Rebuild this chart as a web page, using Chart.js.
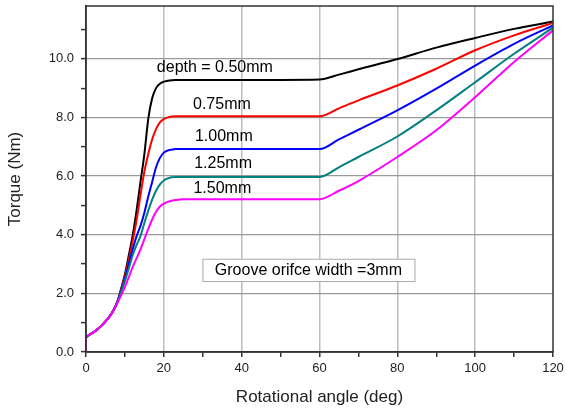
<!DOCTYPE html>
<html>
<head>
<meta charset="utf-8">
<script src="https://cdn.jsdelivr.net/npm/chart.js@4/dist/chart.umd.min.js"></script>
<style>
html,body{margin:0;padding:0;background:#fff;}
canvas{display:block;}
</style>
</head>
<body>
<canvas id="c" width="566" height="412"></canvas>
<script>
// Rotational angle (deg)
const angles = [0, 0, 1, 2, 3, 4, 5, 6, 7, 8, 9, 10, 11, 12, 13, 14, 15, 16, 17, 18, 19, 20, 21, 22, 23, 24, 25, 30, 40, 50, 60, 65, 70, 80, 90, 100, 110, 120];

// Torque (Nm) per groove depth
const depth050 = [0, 0.52, 0.6, 0.68, 0.78, 0.9, 1.04, 1.21, 1.42, 1.7,
  2.15, 2.65, 3.3, 3.98, 4.83, 5.8, 6.75, 7.95, 8.65, 9.0, 9.15, 9.22, 9.25, 9.27, 9.28, 9.28, 9.28,
  9.28, 9.28, 9.28, 9.29, 9.46, 9.64, 9.99, 10.38, 10.71, 11.02, 11.27];
const depth075 = [0, 0.52, 0.6, 0.68, 0.78, 0.9, 1.04, 1.2, 1.41, 1.69,
  2.1, 2.58, 3.15, 3.78, 4.5, 5.35, 6.15, 6.75, 7.25, 7.6, 7.83, 7.94, 8.0, 8.03, 8.04, 8.04, 8.04,
  8.04, 8.04, 8.04, 8.04, 8.31, 8.58, 9.09, 9.66, 10.29, 10.8, 11.22];
const depth100 = [0, 0.52, 0.6, 0.68, 0.78, 0.9, 1.04, 1.2, 1.4, 1.68,
  2.07, 2.5, 3.0, 3.5, 3.95, 4.3, 4.75, 5.3, 5.8, 6.3, 6.62, 6.8, 6.87, 6.9, 6.92, 6.92, 6.92,
  6.92, 6.92, 6.92, 6.92, 7.25, 7.58, 8.24, 8.98, 9.77, 10.51, 11.14];
const depth125 = [0, 0.52, 0.6, 0.68, 0.78, 0.9, 1.04, 1.2, 1.4, 1.67,
  2.03, 2.42, 2.85, 3.3, 3.65, 3.95, 4.4, 4.82, 5.2, 5.5, 5.72, 5.85, 5.92, 5.96, 5.97, 5.97, 5.97,
  5.97, 5.97, 5.97, 5.97, 6.3, 6.65, 7.35, 8.24, 9.2, 10.17, 11.06];
const depth150 = [0, 0.53, 0.6, 0.68, 0.78, 0.9, 1.04, 1.2, 1.4, 1.65,
  1.92, 2.22, 2.55, 2.9, 3.2, 3.5, 3.85, 4.2, 4.52, 4.78, 4.96, 5.06, 5.12, 5.16, 5.18, 5.2, 5.21,
  5.21, 5.21, 5.21, 5.21, 5.5, 5.83, 6.65, 7.56, 8.69, 9.89, 10.97];

const seriesNames = ['depth = 0.50mm', '0.75mm', '1.00mm', '1.25mm', '1.50mm'];
const noteText = 'Groove orifce width =3mm';
const xTitle = 'Rotational angle (deg)';
const yTitle = 'Torque (Nm)';

const FONT = '"Liberation Sans", Arial, sans-serif';

function pts(ys){ return angles.map((a,i)=>({x:a, y:ys[i]})); }

const colors = ['#000000', '#ff0000', '#0000ff', '#008080', '#ff00ff'];
const allSeries = [depth050, depth075, depth100, depth125, depth150];

const datasets = allSeries.map((s,i)=>({
  label: seriesNames[i],
  data: pts(s),
  borderColor: colors[i],
  backgroundColor: colors[i],
  borderWidth: 2,
  pointRadius: 0,
  cubicInterpolationMode: 'monotone',
  order: 4 - i,
  fill: false
}));

// label anchor positions in data units (left, middle)
const labelAnchors = [[18.2, 9.7], [27.5, 8.45], [28.0, 7.36], [27.8, 6.41], [27.6, 5.56]];
const noteBox = {x0: 29.9, x1: 84.4, y0: 3.18, y1: 2.42};

const annotPlugin = {
  id: 'annot',
  afterDatasetsDraw(chart){
    const {ctx, chartArea, scales:{x, y}} = chart;
    ctx.save();
    // frame
    ctx.strokeStyle = '#333';
    ctx.lineWidth = 1.5;
    ctx.strokeRect(chartArea.left, chartArea.top, chartArea.right - chartArea.left, chartArea.bottom - chartArea.top);
    // series labels
    ctx.fillStyle = '#000';
    ctx.font = '16px ' + FONT;
    ctx.textAlign = 'left';
    ctx.textBaseline = 'middle';
    seriesNames.forEach((t,i)=>{
      ctx.fillText(t, x.getPixelForValue(labelAnchors[i][0]), y.getPixelForValue(labelAnchors[i][1]));
    });
    // note box
    const bx0 = x.getPixelForValue(noteBox.x0), bx1 = x.getPixelForValue(noteBox.x1);
    const by0 = y.getPixelForValue(noteBox.y0), by1 = y.getPixelForValue(noteBox.y1);
    ctx.fillStyle = '#fff';
    ctx.fillRect(bx0, by0, bx1 - bx0, by1 - by0);
    ctx.strokeStyle = '#aaa';
    ctx.lineWidth = 1;
    ctx.strokeRect(bx0 + 0.5, by0 + 0.5, bx1 - bx0, by1 - by0);
    ctx.fillStyle = '#000';
    ctx.textAlign = 'center';
    ctx.fillText(noteText, (bx0 + bx1) / 2, (by0 + by1) / 2 + 1);
    ctx.restore();
  }
};

new Chart(document.getElementById('c'), {
  type: 'line',
  data: { datasets },
  options: {
    responsive: false,
    animation: false,
    layout: { padding: { top: 6, right: 13, left: 0, bottom: 0 } },
    plugins: { legend: { display: false }, tooltip: { enabled: false } },
    scales: {
      x: {
        type: 'linear',
        min: 0, max: 120,
        afterFit(s){ s.height = 60; s.paddingLeft = 0; s.paddingRight = 0; },
        ticks: {
          stepSize: 10,
          autoSkip: false,
          maxRotation: 0,
          padding: 4,
          color: '#222',
          font: { family: FONT, size: 13 },
          callback: v => (v % 20 === 0 ? String(v) : '')
        },
        grid: {
          color: c => (c.tick && c.tick.value % 20 === 0 && c.tick.value !== 0 && c.tick.value !== 120) ? '#bdbdbd' : 'rgba(0,0,0,0)',
          lineWidth: 1.5,
          tickColor: '#333',
          tickLength: 5,
          tickWidth: 1.5
        },
        border: { display: true, color: '#333', width: 1.5 },
        title: { display: true, text: xTitle, color: '#222', font: { family: FONT, size: 17 }, padding: { top: 0, bottom: 4 } }
      },
      y: {
        type: 'linear',
        min: 0, max: 11.8,
        afterFit(s){ s.width = 86; s.paddingTop = 0; s.paddingBottom = 0; },
        afterBuildTicks(s){ s.ticks = s.ticks.filter(t => Math.abs(t.value - Math.round(t.value)) < 1e-6); },
        ticks: {
          stepSize: 1,
          autoSkip: false,
          padding: 7,
          color: '#222',
          font: { family: FONT, size: 13 },
          callback: v => (Math.round(v) % 2 === 0 ? v.toFixed(1) : '')
        },
        grid: {
          color: c => (c.tick && Math.round(c.tick.value) % 2 === 0 && c.tick.value !== 0) ? '#9a9a9a' : 'rgba(0,0,0,0)',
          lineWidth: 1.2,
          tickColor: '#333',
          tickLength: 5,
          tickWidth: 1.5
        },
        border: { display: true, color: '#333', width: 1.5 },
        title: { display: true, text: yTitle, color: '#222', font: { family: FONT, size: 17 }, padding: { top: 5, bottom: 0 } }
      }
    }
  },
  plugins: [annotPlugin]
});
</script>
</body>
</html>
